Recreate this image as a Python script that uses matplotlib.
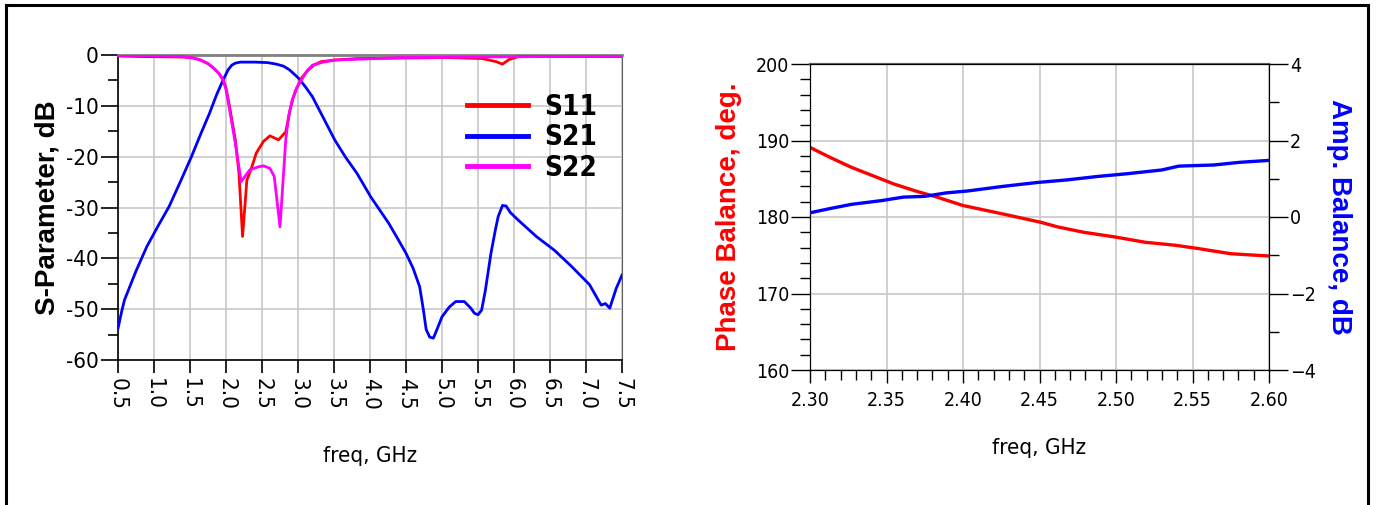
"""
Two ADS-style plots: S-parameters of the filter (left) and
phase / amplitude balance of the balun (right).
"""

import numpy as np
import matplotlib
matplotlib.use("Agg")
import matplotlib.pyplot as plt
from matplotlib.lines import Line2D
from matplotlib.ticker import MultipleLocator, FuncFormatter

# ==== DATA ====
# S21
S21_F = [0.50, 0.55, 0.59, 0.75, 0.90, 1.05, 1.21, 1.37, 1.52, 1.65, 1.77, 1.87, 1.96,
         2.03, 2.08, 2.13, 2.20, 2.40, 2.58, 2.70, 2.80, 2.88, 2.95, 3.01, 3.10, 3.20,
         3.35, 3.51, 3.66, 3.82, 4.01, 4.26, 4.40, 4.50, 4.60, 4.69, 4.74, 4.78, 4.83,
         4.88, 4.93, 5.00, 5.10, 5.19, 5.31, 5.40, 5.45, 5.50, 5.55, 5.60, 5.68, 5.74,
         5.78, 5.84, 5.89, 5.95, 6.06, 6.31, 6.56, 6.80, 7.05, 7.21, 7.27, 7.33, 7.42, 7.50]
S21_DB = [-53.8, -50.5, -48.2, -42.5, -37.7, -33.8, -29.8, -24.8, -20.0, -15.5, -11.5, -7.8, -4.9,
          -2.9, -2.0, -1.6, -1.4, -1.4, -1.5, -1.8, -2.2, -2.9, -3.8, -4.6, -6.2, -8.2,
          -12.3, -16.7, -20.1, -23.3, -27.9, -33.1, -36.5, -39.0, -42.0, -45.6, -50.0, -54.0, -55.5,
          -55.7, -54.0, -51.5, -49.6, -48.5, -48.5, -49.8, -50.8, -51.1, -50.2, -46.5, -39.0, -34.5,
          -31.8, -29.6, -29.7, -31.0, -32.5, -35.7, -38.4, -41.6, -45.2, -49.2, -48.9, -49.8, -45.9, -43.3]

# S11
S11_F = [0.50, 0.80, 1.40, 1.55, 1.65, 1.75, 1.83, 1.90, 1.96, 2.00, 2.05, 2.13, 2.18,
         2.23, 2.29, 2.36, 2.42, 2.52, 2.61, 2.73, 2.83, 2.86, 2.89, 2.93, 2.98, 3.05,
         3.14, 3.22, 3.32, 3.50, 3.82, 5.06, 5.56, 5.75, 5.84, 5.93, 6.06, 7.50]
S11_DB = [-0.2, -0.3, -0.4, -0.6, -1.0, -1.7, -2.6, -3.6, -4.9, -6.5, -10.2, -16.7, -23.3,
          -35.7, -24.6, -22.0, -19.3, -17.0, -15.9, -16.7, -15.1, -13.0, -10.8, -8.5, -6.6, -4.5,
          -3.0, -2.0, -1.3, -1.0, -0.7, -0.5, -0.7, -1.3, -1.8, -0.9, -0.3, -0.3]

# S22
S22_F = [0.50, 0.80, 1.40, 1.55, 1.65, 1.75, 1.83, 1.90, 1.96, 2.00, 2.05, 2.13, 2.21,
         2.33, 2.45, 2.52, 2.61, 2.67, 2.75, 2.83, 2.87, 2.92, 2.98, 3.05, 3.12, 3.20,
         3.35, 3.51, 4.44, 7.50]
S22_DB = [-0.1, -0.1, -0.3, -0.6, -1.0, -1.7, -2.6, -3.6, -4.9, -6.8, -10.8, -17.4, -24.9,
          -22.6, -22.0, -21.8, -22.3, -23.9, -33.8, -16.7, -12.0, -8.9, -6.5, -4.9, -3.2, -2.0,
          -1.4, -1.0, -0.5, -0.2]

# Phase balance (deg) and amplitude balance (dB)
BAL_F = [2.300, 2.313, 2.327, 2.341, 2.355, 2.369, 2.383, 2.400, 2.426, 2.451, 2.462,
         2.479, 2.499, 2.519, 2.539, 2.553, 2.575, 2.600]
PHASE_DEG = [189.1, 187.8, 186.5, 185.4, 184.3, 183.4, 182.6, 181.5, 180.4, 179.3, 178.7,
             178.0, 177.4, 176.7, 176.3, 175.9, 175.2, 174.9]
AMP_F = [2.300, 2.313, 2.327, 2.347, 2.361, 2.375, 2.389, 2.403, 2.426, 2.448, 2.468,
         2.488, 2.507, 2.530, 2.541, 2.564, 2.581, 2.600]
AMP_DB = [0.11, 0.22, 0.33, 0.43, 0.52, 0.54, 0.63, 0.68, 0.80, 0.90, 0.97,
          1.06, 1.13, 1.23, 1.33, 1.36, 1.43, 1.48]

LEGEND_NAMES = ["S11", "S21", "S22"]

# ==== STYLE ====
RED = "#ff0000"
BLUE = "#0000ff"
MAGENTA = "#ff00ff"
GRID = "#c8c8c8"
NARROW = ["Liberation Sans Narrow", "DejaVu Sans"]
BOLD = ["Liberation Sans", "DejaVu Sans"]
LW = 2.0

plt.rcParams["font.family"] = NARROW
plt.rcParams["font.stretch"] = "condensed"

fig = plt.figure(figsize=(13.77, 5.05), dpi=100)
W, H = 1377, 505


def px_axes(x0, y0, x1, y1):
    # axes from pixel box (top-left origin)
    return fig.add_axes([x0 / W, 1 - y1 / H, (x1 - x0) / W, (y1 - y0) / H])


# outer frame
for xs, ys in [([6, 1368], [5, 5]), ([6, 6], [5, 505]), ([1368, 1368], [5, 505])]:
    fig.add_artist(Line2D([x / W for x in xs], [1 - y / H for y in ys],
                          color="black", lw=2.2, transform=fig.transFigure))

# ==== LEFT: S-parameters ====
ax = px_axes(118, 55, 622, 360)
ax.plot(S21_F, S21_DB, color=BLUE, lw=LW, label="S21", zorder=3)
ax.plot(S11_F, S11_DB, color=RED, lw=LW, label="S11", zorder=4)
ax.plot(S22_F, S22_DB, color=MAGENTA, lw=LW, label="S22", zorder=5)
ax.set_xlim(0.5, 7.5)
ax.set_ylim(-60, 0)
ax.xaxis.set_major_locator(MultipleLocator(0.5))
ax.yaxis.set_major_locator(MultipleLocator(10))
ax.yaxis.set_minor_locator(MultipleLocator(5))
ax.xaxis.set_major_formatter(FuncFormatter(lambda v, _: f"{v:.1f}"))
ax.yaxis.set_major_formatter(FuncFormatter(lambda v, _: f"{v:.0f}"))
ax.grid(True, color=GRID, lw=1.2)
ax.tick_params(axis="x", direction="out", length=9, width=1.2, labelsize=16,
               labelrotation=-90, pad=4)
ax.tick_params(axis="y", which="major", direction="out", length=12, width=1.2,
               labelsize=16, pad=2)
ax.tick_params(axis="y", which="minor", direction="out", length=7, width=1.2)
ax.spines["top"].set_color("#808080")
ax.spines["top"].set_linewidth(2.0)
ax.spines["right"].set_color("#606060")
for s in ("left", "bottom"):
    ax.spines[s].set_linewidth(1.2)
ax.set_ylabel("S-Parameter, dB", family=BOLD, fontweight="bold", fontsize=20,
              fontstretch="normal", labelpad=4)
ax.set_xlabel("freq, GHz", fontsize=16, labelpad=26)

handles = {h.get_label(): h for h in ax.get_lines()}
leg = ax.legend([handles[n] for n in LEGEND_NAMES], LEGEND_NAMES,
                loc="upper left", bbox_to_anchor=(0.692, 0.875), frameon=False,
                borderpad=0, borderaxespad=0,
                handlelength=2.2, handletextpad=0.6, labelspacing=0.08,
                prop={"family": NARROW, "weight": "bold", "size": 20,
                      "stretch": "condensed"})
for ln in leg.get_lines():
    ln.set_linewidth(3.5)

# ==== RIGHT: balance ====
ax2 = px_axes(810, 64, 1269, 370)
ax2.plot(BAL_F, PHASE_DEG, color=RED, lw=LW + 0.4, zorder=4)
ax2.set_xlim(2.30, 2.60)
ax2.set_ylim(160, 200)
ax2.xaxis.set_major_locator(MultipleLocator(0.05))
ax2.xaxis.set_minor_locator(MultipleLocator(0.01))
ax2.yaxis.set_major_locator(MultipleLocator(10))
ax2.yaxis.set_minor_locator(MultipleLocator(2))
ax2.xaxis.set_major_formatter(FuncFormatter(lambda v, _: f"{v:.2f}"))
ax2.grid(True, color=GRID, lw=1.2)
ax2.tick_params(axis="x", which="major", direction="out", length=9, width=1.0,
                labelsize=14, pad=6)
ax2.tick_params(axis="x", which="minor", direction="out", length=7, width=1.0)
ax2.tick_params(axis="y", which="major", direction="out", length=14, width=1.0,
                labelsize=14, pad=1)
ax2.tick_params(axis="y", which="minor", direction="out", length=7, width=1.0)
ax2.spines["top"].set_color("#606060")
ax2.spines["top"].set_linewidth(1.6)
ax2.set_ylabel("Phase Balance, deg.", family=BOLD, fontweight="bold", fontsize=20,
               fontstretch="normal", color=RED, labelpad=10)
ax2.set_xlabel("freq, GHz", fontsize=16, labelpad=20)

ax3 = ax2.twinx()
ax3.plot(AMP_F, AMP_DB, color=BLUE, lw=LW + 0.4, zorder=4)
ax3.set_ylim(-4, 4)
ax3.yaxis.set_major_locator(MultipleLocator(2))
ax3.yaxis.set_minor_locator(MultipleLocator(1))
ax3.tick_params(axis="y", which="major", direction="out", length=14, width=1.0,
                labelsize=14, pad=1)
ax3.tick_params(axis="y", which="minor", direction="out", length=7, width=1.0)
ax3.set_ylabel("Amp. Balance, dB", family=BOLD, fontweight="bold", fontsize=20,
               fontstretch="normal", color=BLUE, rotation=-90, labelpad=26)

fig.savefig("out.png", dpi=100)
